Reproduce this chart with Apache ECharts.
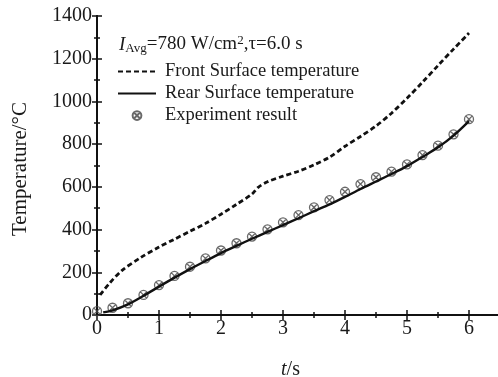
<!DOCTYPE html>
<html>
<head>
<meta charset="utf-8">
<script src="https://cdn.jsdelivr.net/npm/echarts@6/dist/echarts.min.js"></script>
<style>
html,body{margin:0;padding:0;background:#fff;}
#chart{width:498px;height:377px;}
</style>
</head>
<body>
<div id="chart"></div>
<script>
// Front surface temperature (dashed)
var frontT = [0.05, 0.2, 0.4, 0.7, 1.0, 1.25, 1.5, 1.75, 2.0, 2.25, 2.5, 2.6, 2.75, 3.0, 3.25, 3.5, 3.75, 4.0, 4.25, 4.5, 4.75, 5.0, 5.25, 5.5, 5.75, 6.0];
var frontV = [94, 148, 208, 268, 318, 355, 392, 429, 472, 518, 566, 598, 624, 650, 673, 703, 739, 790, 836, 885, 945, 1015, 1090, 1168, 1245, 1320];
// Rear surface temperature (solid)
var rearT = [0.1, 0.25, 0.5, 0.75, 1.0, 1.25, 1.5, 1.75, 2.0, 2.25, 2.5, 2.75, 3.0, 3.25, 3.5, 3.75, 4.0, 4.25, 4.5, 4.75, 5.0, 5.25, 5.5, 5.75, 6.0];
var rearV = [12, 22, 50, 90, 133, 175, 215, 253, 290, 324, 357, 389, 421, 453, 486, 518, 553, 590, 625, 660, 697, 740, 785, 840, 908];
// Experiment result (markers)
var expT = [0, 0.25, 0.5, 0.75, 1.0, 1.25, 1.5, 1.75, 2.0, 2.25, 2.5, 2.75, 3.0, 3.25, 3.5, 3.75, 4.0, 4.25, 4.5, 4.75, 5.0, 5.25, 5.5, 5.75, 6.0];
var expV = [18, 34, 55, 94, 140, 183, 226, 265, 302, 336, 367, 401, 434, 468, 504, 538, 577, 613, 645, 671, 705, 749, 793, 846, 917];

var seriesNames = ['Front Surface temperature', 'Rear Surface temperature', 'Experiment result'];
var xTicks = [0, 1, 2, 3, 4, 5, 6];
var yTicks = [0, 200, 400, 600, 800, 1000, 1200, 1400];

function pairs(a, b) { return a.map(function (v, i) { return [v, b[i]]; }); }

var FONT = '"Liberation Serif", "DejaVu Serif", serif';
var FS = 20;
var markerShape = 'M0,5A5,5 0 1,1 10,5A5,5 0 1,1 0,5Z M1.6,1.6L8.4,8.4 M8.4,1.6L1.6,8.4';
var markerPath = 'path://' + markerShape;
var legendMarkerPath = 'path://M-3,-3 M13,13 ' + markerShape;

var axisLine = { show: true, lineStyle: { color: '#111', width: 2 } };
var chart = echarts.init(document.getElementById('chart'), null, { renderer: 'canvas' });

chart.setOption({
  backgroundColor: '#fff',
  animation: false,
  title: {
    left: 114, top: 29,
    text: '{i|I}{sub|Avg}=780 W/cm{sup|2},τ=6.0 s',
    textStyle: {
      fontFamily: FONT, fontSize: 19, color: '#1a1a1a', fontWeight: 'normal',
      rich: {
        i: { fontFamily: FONT, fontSize: 19, fontStyle: 'italic', color: '#1a1a1a' },
        sub: { fontFamily: FONT, fontSize: 13, color: '#1a1a1a', verticalAlign: 'bottom', padding: [8, 0, 0, 0] },
        sup: { fontFamily: FONT, fontSize: 13, color: '#1a1a1a', verticalAlign: 'top', padding: [0, 0, 8, 0] }
      }
    }
  },
  legend: {
    left: 112, top: 57, orient: 'vertical',
    itemWidth: 38, itemHeight: 14, itemGap: 3,
    data: [
      { name: seriesNames[0] },
      { name: seriesNames[1] },
      { name: seriesNames[2], icon: legendMarkerPath }
    ],
    textStyle: { fontFamily: FONT, fontSize: 18.5, color: '#1a1a1a', padding: [0, 0, 0, 4] }
  },
  grid: { left: 97, right: -2, top: 16, bottom: 62, containLabel: false, outerBoundsMode: 'none' },
  xAxis: [{
    type: 'value', min: 0, max: 6.5, interval: 1,
    name: '{it|t}/s', nameLocation: 'middle', nameGap: 45,
    nameTextStyle: { fontFamily: FONT, fontSize: FS, color: '#1a1a1a', padding: [0, 16, 0, 0],
      rich: { it: { fontFamily: FONT, fontSize: FS, fontStyle: 'italic', color: '#1a1a1a' } } },
    axisLine: axisLine,
    axisTick: { show: true, inside: true, length: 5, lineStyle: { color: '#111', width: 1.5 } },
    minorTick: { show: true, splitNumber: 2, length: 3, lineStyle: { color: '#111', width: 1.5 } },
    axisLabel: { fontFamily: FONT, fontSize: FS, color: '#1a1a1a', margin: 4,
      formatter: function (v) { return xTicks.indexOf(v) >= 0 ? String(v) : ''; } },
    splitLine: { show: false }
  }, {
    type: 'value', min: 0, max: 6.5, interval: 1, position: 'top',
    axisLine: axisLine,
    axisTick: { show: true, inside: true, length: 5, lineStyle: { color: '#111', width: 1.5 } },
    minorTick: { show: true, splitNumber: 2, length: 3, lineStyle: { color: '#111', width: 1.5 } },
    axisLabel: { show: false }, splitLine: { show: false }
  }],
  yAxis: [{
    type: 'value', min: 0, max: 1400, interval: 200,
    name: 'Temperature/°C', nameLocation: 'middle', nameGap: 66, nameRotate: 90,
    nameTextStyle: { fontFamily: FONT, fontSize: 21, color: '#1a1a1a', padding: [0, 7, 0, 0] },
    axisLine: axisLine,
    axisTick: { show: true, inside: true, length: 5, lineStyle: { color: '#111', width: 1.5 } },
    minorTick: { show: true, splitNumber: 2, length: 3, lineStyle: { color: '#111', width: 1.5 } },
    axisLabel: { fontFamily: FONT, fontSize: FS, color: '#1a1a1a', margin: 5,
      formatter: function (v) { return yTicks.indexOf(v) >= 0 ? String(v) : ''; } },
    splitLine: { show: false }
  }, {
    type: 'value', min: 0, max: 1400, interval: 200, position: 'right',
    axisLine: axisLine,
    axisTick: { show: true, inside: true, length: 5, lineStyle: { color: '#111', width: 1.5 } },
    minorTick: { show: true, splitNumber: 2, length: 3, lineStyle: { color: '#111', width: 1.5 } },
    axisLabel: { show: false }, splitLine: { show: false }
  }],
  series: [{
    name: seriesNames[0], type: 'line', symbol: 'none', smooth: 0.3,
    data: pairs(frontT, frontV),
    lineStyle: { color: '#111', width: 2.8, type: [5, 3] },
    itemStyle: { color: 'rgba(0,0,0,0)', borderWidth: 0 }
  }, {
    name: seriesNames[1], type: 'line', symbol: 'none', smooth: 0.3,
    data: pairs(rearT, rearV),
    lineStyle: { color: '#111', width: 2.4 },
    itemStyle: { color: 'rgba(0,0,0,0)', borderWidth: 0 }
  }, {
    name: seriesNames[2], type: 'scatter', symbol: markerPath, symbolSize: 9,
    data: pairs(expT, expV),
    itemStyle: { color: 'rgba(0,0,0,0)', borderColor: '#444', borderWidth: 1.3 }
  }]
});
</script>
</body>
</html>
